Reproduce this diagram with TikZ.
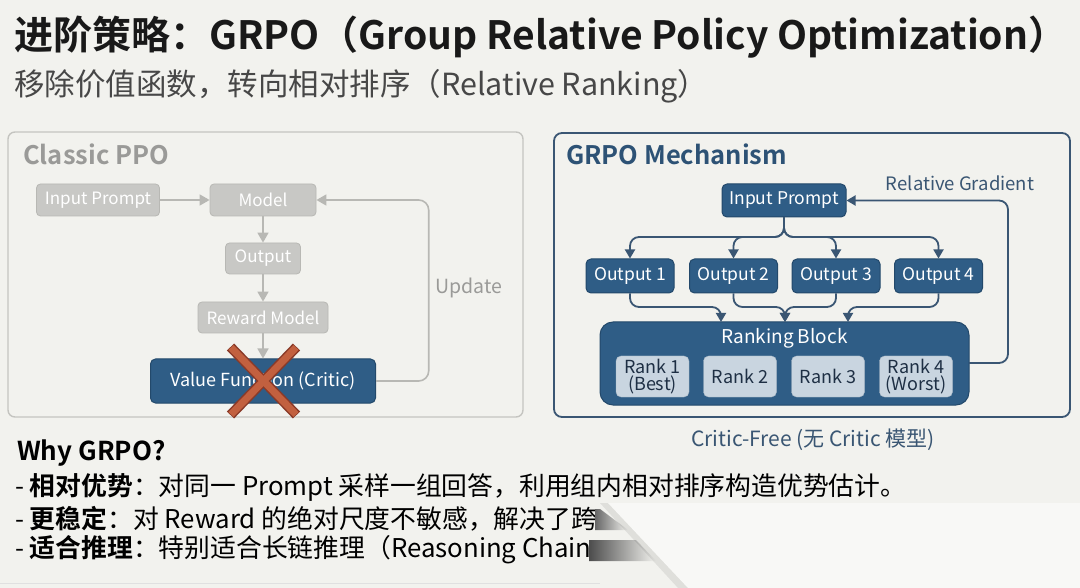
\documentclass[tikz,border=0pt]{standalone}
\usepackage{fontspec}
\setmainfont{Noto Sans CJK SC}[BoldFont={Noto Sans CJK SC Bold}]
\usetikzlibrary{arrows.meta,calc}
\definecolor{bg}{HTML}{F2F2EE}
\definecolor{panelgray}{HTML}{C4C4C0}
\definecolor{boxgray}{HTML}{C8C8C5}
\definecolor{linegray}{HTML}{B8B8B4}
\definecolor{txtgray}{HTML}{9A9A98}
\definecolor{navy}{HTML}{2F5D86}
\definecolor{navyd}{HTML}{23496B}
\definecolor{navyline}{HTML}{3A5673}
\definecolor{navytxt}{HTML}{2D5275}
\definecolor{rankfill}{HTML}{C9D5E0}
\definecolor{ranktxt}{HTML}{1E2F44}
\definecolor{xred}{HTML}{C2603F}
\definecolor{xredd}{HTML}{8A3A28}
\tikzset{
  graybox/.style={draw=linegray, fill=boxgray, rounded corners=4pt, text=white, font=\fontsize{17}{20}\selectfont, minimum height=32pt, inner sep=0pt, line width=0.8pt},
  navybox/.style={draw=navyd, fill=navy, rounded corners=5pt, text=white, font=\fontsize{17.5}{20}\selectfont, minimum height=34pt, inner sep=0pt, line width=1pt},
  rankbox/.style={draw=navyd!40, fill=rankfill, rounded corners=5pt, text=ranktxt, font=\fontsize{18}{19}\selectfont, minimum width=73pt, minimum height=41pt, inner sep=0pt, align=center},
  grayarr/.style={draw=linegray, line width=1.6pt, -{Triangle[length=10pt,width=11pt]}},
  navyarr/.style={draw=navyline, line width=1.8pt, rounded corners=9pt, -{Triangle[length=9pt,width=10pt]}},
  bodytxt/.style={anchor=west, font=\fontsize{25.8}{28}\selectfont, text=black, inner sep=0pt},
}
\begin{document}
\begin{tikzpicture}[x=1pt,y=-1pt]
\useasboundingbox (0,0) rectangle (1080,588);
\fill[bg] (0,0) rectangle (1080,588);

% Title
\node[anchor=west, inner sep=0pt, text=black!90, font=\fontsize{39}{44}\selectfont\bfseries] (title) at (14,37) {进阶策略：GRPO（Group Relative Policy Optimization）};
\node[anchor=west, inner sep=0pt, text=black!72, font=\fontsize{30.5}{34}\selectfont] (subtitle) at (14,86) {移除价值函数，转向相对排序（Relative Ranking）};

% Left panel
\draw[panelgray, line width=1.4pt, rounded corners=7pt] (8,132) rectangle (523,417);
\node[anchor=west, inner sep=0pt, text=txtgray, font=\fontsize{25.5}{28}\selectfont\bfseries] (ctitle) at (23,154) {Classic PPO};
\node[graybox, minimum width=123pt] (lip) at (98,200) {Input Prompt};
\node[graybox, minimum width=106pt] (lmodel) at (263,200) {Model};
\node[graybox, minimum width=75pt, minimum height=31pt] (lout) at (263,258.5) {Output};
\node[graybox, minimum width=130pt, minimum height=31pt] (lrm) at (263,317.5) {Reward Model};
\node[navybox, minimum width=225pt, minimum height=44pt, font=\fontsize{18}{20}\selectfont] (vf) at (263,381) {Value Function (Critic)};
\draw[grayarr] (lip) -- (lmodel);
\draw[grayarr] (lmodel) -- (lout);
\draw[grayarr] (lout) -- (lrm);
\draw[grayarr] (lrm) -- (vf);
\coordinate (uL) at (428.7,290);
\draw[grayarr, rounded corners=10pt] (vf.east) -- (vf.east -| uL) -- (lmodel.east -| uL) -- (lmodel.east);
\node[text=txtgray, font=\fontsize{19.5}{20}\selectfont, inner sep=0pt] (upd) at (469,288) {Update};
% red X
\coordinate (xc) at (263.5,381);
\draw[xredd, line width=10pt] ($(xc)+(-33,-34)$) -- ($(xc)+(33,34)$);
\draw[xredd, line width=10pt] ($(xc)+(33,-34)$) -- ($(xc)+(-33,34)$);
\draw[xred, line width=7pt] ($(xc)+(-32.5,-33.5)$) -- ($(xc)+(32.5,33.5)$);
\draw[xred, line width=7pt] ($(xc)+(32.5,-33.5)$) -- ($(xc)+(-32.5,33.5)$);

% Right panel
\draw[navyline, line width=1.8pt, rounded corners=8pt] (554,133) rectangle (1070,417);
\node[anchor=west, inner sep=0pt, text=navytxt, font=\fontsize{25.5}{28}\selectfont\bfseries] (gtitle) at (566,154) {GRPO Mechanism};
\node[navybox, minimum width=124pt, minimum height=33pt] (rip) at (784,200.5) {Input Prompt};
\node[text=navyline, font=\fontsize{18.5}{20}\selectfont, inner sep=0pt] (rg) at (960,183) {Relative Gradient};
\node[navybox, minimum width=88pt] (o1) at (630,276) {Output 1};
\node[navybox, minimum width=88pt] (o2) at (733.5,276) {Output 2};
\node[navybox, minimum width=88pt] (o3) at (836,276) {Output 3};
\node[navybox, minimum width=88pt] (o4) at (938.5,276) {Output 4};
\node[draw=navyd, fill=navy, rounded corners=13pt, line width=1pt, minimum width=369pt, minimum height=83pt, inner sep=0pt] (rb) at (784.5,363.5) {};
\node[text=white, font=\fontsize{19}{20}\selectfont, inner sep=0pt] (rbl) at (784.5,338) {Ranking Block};
\node[rankbox] (r1) at (652.5,376.5) {Rank 1\\[-2pt](Best)};
\node[rankbox] (r2) at (740,376.5) {Rank 2};
\node[rankbox] (r3) at (828,376.5) {Rank 3};
\node[rankbox] (r4) at (916,376.5) {Rank 4\\[-2pt](Worst)};

\coordinate (split) at (784,237);
\foreach \o in {o1,o2,o3,o4}{
  \draw[navyarr] (rip.south) -- (split) -| (\o.north);
}
\coordinate (in1) at (721,322);
\coordinate (in2) at (785,322);
\coordinate (in3) at (848,322);
\coordinate (mh) at (700,307);
\draw[navyarr] (o1.south) |- (in1 |- mh) -- (in1);
\draw[navyarr] (o2.south) |- (in2 |- mh) -- (in2);
\draw[navyarr] (o3.south) |- (in2 |- mh) -- (in2);
\draw[navyarr] (o4.south) |- (in3 |- mh) -- (in3);
\coordinate (gL) at (1008,300);
\coordinate (rbout) at (969,363);
\draw[navyarr] (rbout) -- (rbout -| gL) -- (rip.east -| gL) -- (rip.east);

\node[text=navyline, font=\fontsize{21}{22}\selectfont, inner sep=0pt] (cf) at (813,440) {Critic-Free (无 Critic 模型)};

% Bottom text
\node[bodytxt, font=\fontsize{26}{28}\selectfont\bfseries] (why) at (17,453) {Why GRPO?};
\node[bodytxt] (l1) at (15,487) {- \textbf{相对优势}：对同一 Prompt 采样一组回答，利用组内相对排序构造优势估计。};
\node[bodytxt] (l2) at (15,519) {- \textbf{更稳定}：对 Reward 的绝对尺度不敏感，解决了跨};
\node[bodytxt] (l3) at (15,550) {- \textbf{适合推理}：特别适合长链推理（Reasoning Chain};
\draw[black!12, line width=1pt] (0,583) -- (600,583);

% page-curl overlay
\fill[bg] (595,504) rectangle (620,566);
\shade[left color=black!60, right color=bg] (595,509) -- (600,509) -- (628,530) -- (595,530) -- cycle;
\shade[left color=black!70, right color=bg] (589,540) -- (636,540) -- (656,561) -- (589,561) -- cycle;
\fill[black, opacity=0.08] (600,503) -- (614,503) -- (694,588) -- (678,588) -- cycle;
\fill[white!45!bg] (608,503) -- (1080,503) -- (1080,588) -- (688,588) -- cycle;
\end{tikzpicture}
\end{document}
